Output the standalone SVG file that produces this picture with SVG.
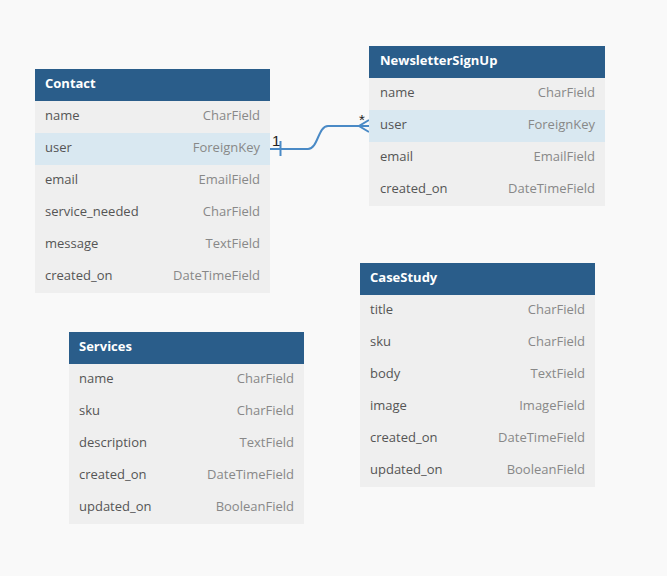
<svg xmlns="http://www.w3.org/2000/svg" width="667" height="576" viewBox="0 0 667 576">
<style>
.bg{fill:#f9f9f9}
.hd{fill:#2a5d8a}
.row{fill:#efefef}
.hl{fill:#d9e8f1}
.title{font-family:"Open Sans","Liberation Sans",sans-serif;font-size:13px;font-weight:bold;fill:#ffffff}
.fn{font-family:"Open Sans","Liberation Sans",sans-serif;font-size:13px;fill:#555555}
.ft{font-family:"Open Sans","Liberation Sans",sans-serif;font-size:13px;fill:#888888;text-anchor:end}
.lbl{font-family:"Liberation Sans",Arial,sans-serif;font-size:15px;fill:#222222}
.conn{fill:none;stroke:#4a8ac6;stroke-width:2}
</style>
<rect class="bg" x="0" y="0" width="667" height="576"/>

<g id="connectors">
  <path class="conn" d="M270,149 H308 C318,149 318,126 328,126 H369"/>
  <path class="conn" d="M280.5,141 V156"/>
  <path class="conn" d="M369,120 L359,126 L369,132 M359,126 H369"/>
  <text class="lbl" x="272" y="146">1</text>
  <text class="lbl" x="359" y="125">*</text>
</g>

<g id="contact">
  <rect class="hd" x="35" y="69" width="235" height="32"/>
  <text class="title" x="45" y="88">Contact</text>
  <rect class="row" x="35" y="101" width="235" height="192"/>
  <rect class="hl" x="35" y="133" width="235" height="32"/>
  <text class="fn" x="45" y="120">name</text><text class="ft" x="260" y="120">CharField</text>
  <text class="fn" x="45" y="152">user</text><text class="ft" x="260" y="152">ForeignKey</text>
  <text class="fn" x="45" y="184">email</text><text class="ft" x="260" y="184">EmailField</text>
  <text class="fn" x="45" y="216">service_needed</text><text class="ft" x="260" y="216">CharField</text>
  <text class="fn" x="45" y="248">message</text><text class="ft" x="260" y="248">TextField</text>
  <text class="fn" x="45" y="280">created_on</text><text class="ft" x="260" y="280">DateTimeField</text>
</g>

<g id="newslettersignup">
  <rect class="hd" x="369" y="46" width="236" height="32"/>
  <text class="title" x="380" y="65">NewsletterSignUp</text>
  <rect class="row" x="369" y="78" width="236" height="128"/>
  <rect class="hl" x="369" y="110" width="236" height="32"/>
  <text class="fn" x="380" y="97">name</text><text class="ft" x="595" y="97">CharField</text>
  <text class="fn" x="380" y="129">user</text><text class="ft" x="595" y="129">ForeignKey</text>
  <text class="fn" x="380" y="161">email</text><text class="ft" x="595" y="161">EmailField</text>
  <text class="fn" x="380" y="193">created_on</text><text class="ft" x="595" y="193">DateTimeField</text>
</g>

<g id="casestudy">
  <rect class="hd" x="360" y="263" width="235" height="32"/>
  <text class="title" x="370" y="282">CaseStudy</text>
  <rect class="row" x="360" y="295" width="235" height="192"/>
  <text class="fn" x="370" y="314">title</text><text class="ft" x="585" y="314">CharField</text>
  <text class="fn" x="370" y="346">sku</text><text class="ft" x="585" y="346">CharField</text>
  <text class="fn" x="370" y="378">body</text><text class="ft" x="585" y="378">TextField</text>
  <text class="fn" x="370" y="410">image</text><text class="ft" x="585" y="410">ImageField</text>
  <text class="fn" x="370" y="442">created_on</text><text class="ft" x="585" y="442">DateTimeField</text>
  <text class="fn" x="370" y="474">updated_on</text><text class="ft" x="585" y="474">BooleanField</text>
</g>

<g id="services">
  <rect class="hd" x="69" y="332" width="235" height="32"/>
  <text class="title" x="79" y="351">Services</text>
  <rect class="row" x="69" y="364" width="235" height="160"/>
  <text class="fn" x="79" y="383">name</text><text class="ft" x="294" y="383">CharField</text>
  <text class="fn" x="79" y="415">sku</text><text class="ft" x="294" y="415">CharField</text>
  <text class="fn" x="79" y="447">description</text><text class="ft" x="294" y="447">TextField</text>
  <text class="fn" x="79" y="479">created_on</text><text class="ft" x="294" y="479">DateTimeField</text>
  <text class="fn" x="79" y="511">updated_on</text><text class="ft" x="294" y="511">BooleanField</text>
</g>
</svg>
